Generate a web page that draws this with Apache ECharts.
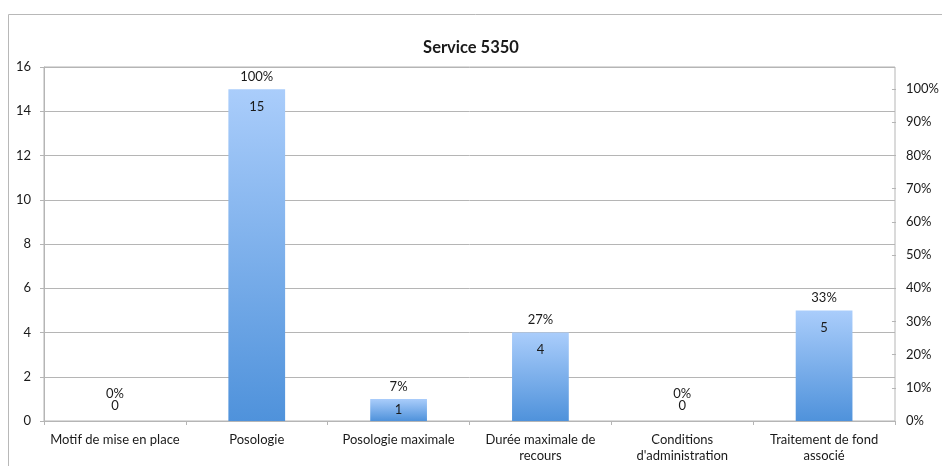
<!DOCTYPE html>
<html>
<head>
<meta charset="utf-8">
<script src="https://cdn.jsdelivr.net/npm/echarts@6/dist/echarts.min.js"></script>
<style>
html,body{margin:0;padding:0;background:#fff;}
#c{width:942px;height:466px;}
</style>
</head>
<body>
<div id="c"></div>
<script>
var categories = ['Motif de mise en place', 'Posologie', 'Posologie maximale', 'Durée maximale de\nrecours', 'Conditions\nd\'administration', 'Traitement de fond\nassocié'];
var counts = [0, 15, 1, 4, 0, 5];
var percents = [0, 100, 7, 27, 0, 33];
var leftTicks = [0, 16, 2];
var rightTicks = [0, 1, 0.1];

var FONT = 'Lato';
var TXT = '#1a1a1a';
var GRIDC = '#b5b5b5';
var FS = 13;

var chart = echarts.init(document.getElementById('c'), null, {renderer: 'canvas'});

var barData = counts.map(function (v) {
  var item = {value: v};
  if (v === 0) {
    item.label = {position: 'top', distance: 9};
  } else if (v <= 1) {
    item.label = {position: 'inside'};
  }
  return item;
});
var pctData = counts.map(function (v, i) {
  var item = {value: v, pct: percents[i]};
  if (v === 0) item.label = {distance: 21};
  return item;
});

chart.setOption({
  animation: false,
  textStyle: {fontFamily: FONT},
  title: {
    text: 'Service 5350',
    left: 'center',
    top: 34,
    textStyle: {fontFamily: FONT, fontSize: 16.5, fontWeight: 'bold', color: TXT}
  },
  graphic: [{
    type: 'rect',
    shape: {x: 8.5, y: 14.5, width: 960, height: 500},
    style: {fill: 'none', stroke: '#b8b8b8', lineWidth: 1},
    silent: true,
    z: -1
  }],
  grid: [
    {left: 44, right: 47, top: 67, bottom: 45, show: true, borderColor: GRIDC, borderWidth: 1, backgroundColor: 'transparent'},
    {left: 44, right: 47, top: 89, bottom: 45}
  ],
  xAxis: [{
    type: 'category',
    gridIndex: 0,
    data: categories,
    axisLine: {lineStyle: {color: GRIDC}},
    axisTick: {show: true, length: 4, lineStyle: {color: GRIDC}},
    axisLabel: {interval: 0, margin: 11, fontFamily: FONT, fontSize: FS, color: TXT, lineHeight: 16}
  }, {
    type: 'category',
    gridIndex: 1,
    data: categories,
    show: false
  }],
  yAxis: [{
    type: 'value',
    gridIndex: 0,
    min: leftTicks[0],
    max: leftTicks[1],
    interval: leftTicks[2],
    axisLine: {show: true, lineStyle: {color: GRIDC}},
    axisTick: {show: true, length: 4, lineStyle: {color: GRIDC}},
    axisLabel: {margin: 13, fontFamily: FONT, fontSize: FS, color: TXT},
    splitLine: {show: true, lineStyle: {color: GRIDC, width: 1}}
  }, {
    type: 'value',
    gridIndex: 1,
    position: 'right',
    min: rightTicks[0],
    max: rightTicks[1],
    interval: rightTicks[2],
    axisLine: {show: false},
    axisTick: {show: true, length: 4, lineStyle: {color: GRIDC}},
    axisLabel: {
      margin: 14, fontFamily: FONT, fontSize: FS, color: TXT,
      formatter: function (v) { return Math.round(v * 100) + '%'; }
    },
    splitLine: {show: false}
  }],
  series: [{
    type: 'bar',
    xAxisIndex: 0,
    yAxisIndex: 0,
    data: barData,
    barWidth: '40%',
    itemStyle: {
      color: new echarts.graphic.LinearGradient(0, 0, 0, 1, [
        {offset: 0, color: '#aacdfb'},
        {offset: 1, color: '#4f92db'}
      ])
    },
    label: {
      show: true,
      position: 'insideTop',
      distance: 11,
      fontFamily: FONT,
      fontSize: FS,
      color: TXT
    },
    z: 3
  }, {
    type: 'bar',
    xAxisIndex: 0,
    yAxisIndex: 0,
    data: pctData,
    barWidth: '40%',
    barGap: '-100%',
    itemStyle: {color: 'rgba(0,0,0,0)'},
    label: {
      show: true,
      position: 'top',
      distance: 6,
      fontFamily: FONT,
      fontSize: FS,
      color: TXT,
      formatter: function (p) { return p.data.pct + '%'; }
    },
    z: 4
  }]
});
</script>
</body>
</html>
